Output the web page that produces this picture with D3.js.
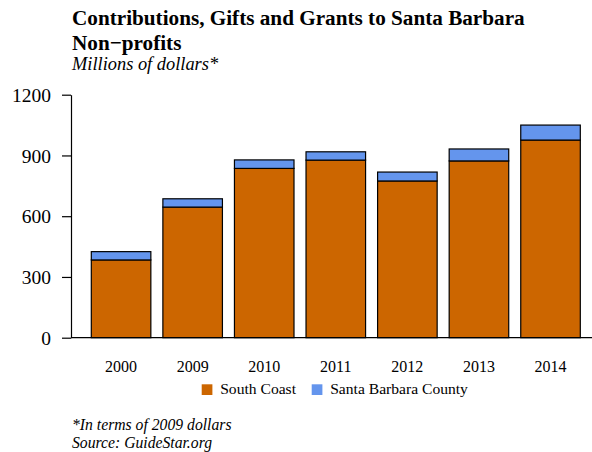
<!DOCTYPE html>
<html><head><meta charset="utf-8">
<script src="https://cdn.jsdelivr.net/npm/d3@7"></script>
<style>
body{margin:0;background:#fff;}
svg{display:block;font-family:"Liberation Serif","Times New Roman",serif;}
</style></head>
<body>
<script>
const categories = ["2000","2009","2010","2011","2012","2013","2014"];
const southCoast = [384, 645, 836, 877, 774, 873, 976];
const countyExtra = [41, 41, 42, 41, 44, 59, 74];
const seriesNames = ["South Coast","Santa Barbara County"];
const seriesColors = ["#CC6600","#6495ED"];
const yTicks = [0, 300, 600, 900, 1200];

const W = 592, H = 452;
const svg = d3.select("body").append("svg").attr("width", W).attr("height", H);

const data = categories.map((c,i)=>({year:c, south:southCoast[i], county:countyExtra[i]}));
const stack = d3.stack().keys(["south","county"])(data);

const x = d3.scaleBand().domain(categories).range([91.3, 580.3]).paddingInner(0.168).paddingOuter(0);
const y = d3.scaleLinear().domain([0, 1200]).range([337.7, 94.7]);

// bars
svg.append("g").selectAll("g").data(stack).join("g")
  .attr("fill", (d,i)=>seriesColors[i])
  .selectAll("rect").data(d=>d).join("rect")
  .attr("x", d=>x(d.data.year))
  .attr("y", d=>y(d[1]))
  .attr("width", x.bandwidth())
  .attr("height", d=>y(d[0])-y(d[1]))
  .attr("stroke", "#000").attr("stroke-width", 1.2);

// y axis
const yAxis = svg.append("g").attr("transform","translate(71,0)")
  .call(d3.axisLeft(y).tickValues(yTicks).tickSize(9).tickSizeOuter(0).tickPadding(11).tickFormat(d3.format("d")));
yAxis.selectAll("text").attr("font-size","19.5px").attr("font-family","Liberation Serif, serif").attr("fill","#000").attr("dy","0.34em");
yAxis.selectAll("line,path").attr("stroke","#000").attr("stroke-width",1.2);

// x axis
const xAxis = svg.append("g").attr("transform","translate(0,337.7)")
  .call(d3.axisBottom(x).tickSize(0).tickPadding(23));
xAxis.select(".domain").attr("d","M71,0H600");
xAxis.selectAll("text").attr("font-size","16px").attr("font-family","Liberation Serif, serif").attr("fill","#000");
xAxis.selectAll("path").attr("stroke","#000").attr("stroke-width",1.2);

// title
const t = svg.append("g").attr("fill","#000");
t.append("text").attr("x",72).attr("y",25).attr("font-size","21.2px").attr("font-weight","bold")
  .text("Contributions, Gifts and Grants to Santa Barbara");
t.append("text").attr("x",72).attr("y",50).attr("font-size","21.2px").attr("font-weight","bold")
  .text("Non\u2212profits");
t.append("text").attr("x",72).attr("y",70).attr("font-size","18.4px").attr("font-style","italic")
  .text("Millions of dollars*");

// legend
const legX = [201.7, 311.7];
const leg = svg.append("g").selectAll("g").data(seriesNames).join("g")
  .attr("transform",(d,i)=>`translate(${legX[i]},384.3)`);
leg.append("rect").attr("width",10.7).attr("height",10.7).attr("fill",(d,i)=>seriesColors[i]);
leg.append("text").attr("x",18.5).attr("y",10).attr("font-size","15.6px").attr("fill","#000").text(d=>d);

// footnotes
svg.append("text").attr("x",72).attr("y",430).attr("font-size","15.7px").attr("font-style","italic")
  .text("*In terms of 2009 dollars");
svg.append("text").attr("x",72).attr("y",448.3).attr("font-size","15.7px").attr("font-style","italic")
  .text("Source: GuideStar.org");
</script>
</body></html>
